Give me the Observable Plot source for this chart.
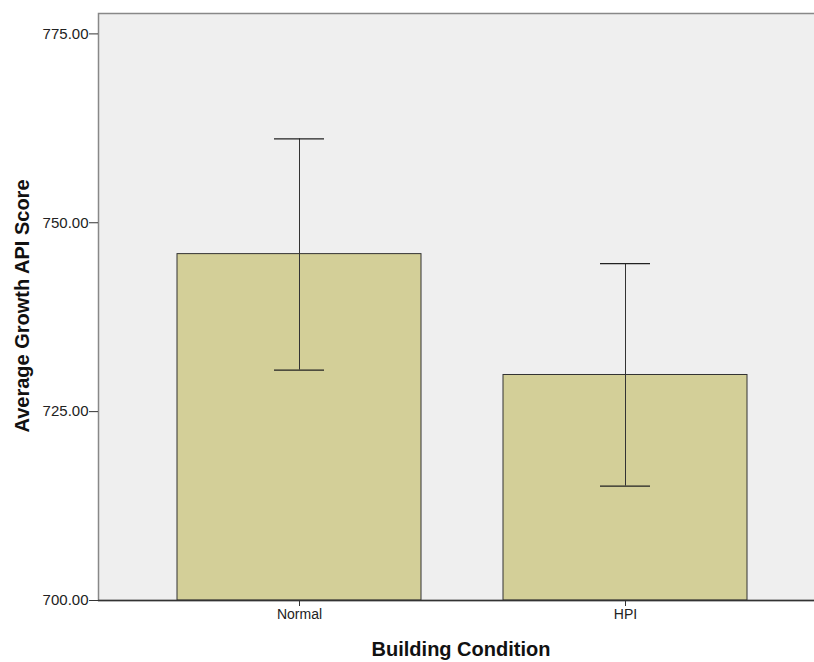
<!DOCTYPE html>
<html>
<head>
<meta charset="utf-8">
<script src="https://cdn.jsdelivr.net/npm/d3@7"></script>
<script src="https://cdn.jsdelivr.net/npm/@observablehq/plot@0.6"></script>
<style>
  body { margin: 0; background: #fff; }
  svg { font-family: "Liberation Sans", Arial, sans-serif; }
</style>
</head>
<body>
<div id="chart"></div>
<script>
const categories = ["Normal", "HPI"];
const means = [745.85, 729.85];
const lowerCI = [730.5, 715.15];
const upperCI = [761.1, 744.6];
const yTicks = [700, 725, 750, 775];

const data = categories.map((c, i) => ({cat: c, mean: means[i], lo: lowerCI[i], hi: upperCI[i]}));

const chart = Plot.plot({
  width: 814,
  height: 662,
  marginLeft: 98,
  marginTop: 13,
  marginBottom: 62,
  marginRight: -11,
  style: {fontSize: "15px", fontFamily: "'Liberation Sans', Arial, sans-serif", color: "#222", background: "#fff"},
  x: {domain: categories, paddingInner: 0.253, paddingOuter: 0.239, label: null},
  y: {domain: [700, 777.7], label: null},
  marks: [
    Plot.frame({fill: "#efefef", stroke: "#888", strokeWidth: 1.5}),
    Plot.barY(data, {x: "cat", y1: 700, y2: "mean", fill: "#d3cf98", stroke: "#333", strokeWidth: 1}),
    Plot.ruleX(data, {x: "cat", y1: "lo", y2: "hi", stroke: "#333", strokeWidth: 1}),
    Plot.tickY(data, {x: "cat", y: "hi", stroke: "#222", strokeWidth: 1.2, inset: 97}),
    Plot.tickY(data, {x: "cat", y: "lo", stroke: "#222", strokeWidth: 1.2, inset: 97}),
    Plot.ruleY([700], {stroke: "#333", strokeWidth: 1.5}),
    Plot.axisY({ticks: yTicks, tickFormat: d3.format(".2f"), tickSize: 9, tickPadding: 1, label: null, fontSize: 15, stroke: "#333"}),
    Plot.axisX({tickSize: 6, tickPadding: 3, label: null, fontSize: 14, stroke: "#333"})
  ]
});

const svg = d3.select(chart);
svg.append("text")
  .attr("x", 461).attr("y", 656)
  .attr("text-anchor", "middle")
  .attr("font-weight", "bold").attr("font-size", 20)
  .attr("fill", "#111")
  .text("Building Condition");
svg.append("text")
  .attr("transform", "translate(29,306) rotate(-90)")
  .attr("text-anchor", "middle")
  .attr("font-weight", "bold").attr("font-size", 20)
  .attr("fill", "#111")
  .text("Average Growth API Score");

document.getElementById("chart").appendChild(chart);
</script>
</body>
</html>
